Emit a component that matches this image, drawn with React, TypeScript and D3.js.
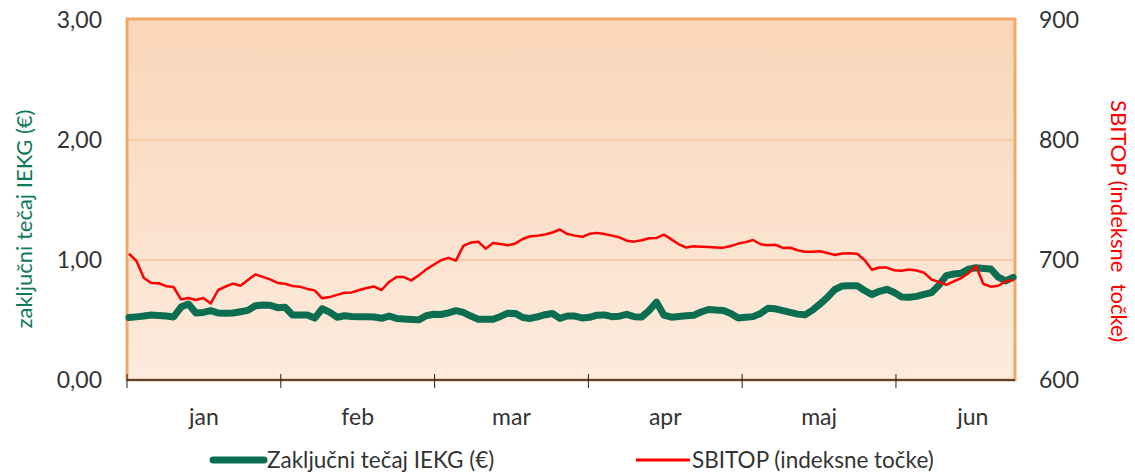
import React from "react";
import * as d3 from "d3";

const months = ["jan", "feb", "mar", "apr", "maj", "jun"];
const leftTicks = [0, 1, 2, 3];
const rightTicks = [600, 700, 800, 900];

// Closing price IEKG (€), one value per trading day
const iekg = [
  0.52, 0.526, 0.533, 0.542, 0.538, 0.533, 0.525, 0.608, 0.633, 0.558,
  0.563, 0.578, 0.558, 0.556, 0.558, 0.569, 0.58, 0.619, 0.625, 0.623,
  0.603, 0.606, 0.542, 0.542, 0.542, 0.516, 0.594, 0.566, 0.523, 0.535,
  0.53, 0.528, 0.528, 0.525, 0.514, 0.533, 0.513, 0.509, 0.505, 0.501,
  0.535, 0.548, 0.546, 0.56, 0.578, 0.563, 0.533, 0.507, 0.506, 0.506,
  0.53, 0.557, 0.555, 0.521, 0.513, 0.527, 0.544, 0.554, 0.513, 0.533,
  0.533, 0.517, 0.522, 0.54, 0.542, 0.528, 0.532, 0.547, 0.528, 0.525,
  0.579, 0.649, 0.54, 0.523, 0.53, 0.535, 0.54, 0.567, 0.588, 0.583,
  0.58, 0.554, 0.517, 0.522, 0.528, 0.554, 0.598, 0.593, 0.578, 0.563,
  0.549, 0.543, 0.582, 0.633, 0.689, 0.754, 0.783, 0.786, 0.786, 0.746,
  0.712, 0.739, 0.756, 0.729, 0.692, 0.689, 0.697, 0.714, 0.728, 0.789,
  0.87, 0.883, 0.889, 0.924, 0.935, 0.93, 0.925, 0.857, 0.826, 0.856,
];

// SBITOP index points, one value per trading day
const sbitop = [
  705.2, 699.2, 685, 680.8, 680.6, 678.2, 677.5, 667.2, 668.3, 666.6,
  668.3, 663.8, 675, 677.9, 680.3, 678.6, 683.3, 688, 685.9, 683.8,
  680.9, 680.2, 678.3, 677.8, 675.9, 674.7, 668.1, 669.1, 670.9, 672.7,
  673, 675, 676.7, 677.9, 675, 681.7, 685.8, 685.8, 683, 687.2,
  692.2, 696, 699.8, 701.8, 699.5, 711.8, 714.5, 715.3, 709.4, 714.2,
  713.4, 712.3, 713.8, 717.5, 719.8, 720.3, 721.3, 722.9, 725.4, 721.6,
  720.3, 719.3, 721.8, 722.6, 721.6, 720.3, 718.9, 716.1, 715.3, 716.4,
  718.1, 718.4, 721.1, 717.2, 713.1, 710.4, 711.4, 711.1, 710.8, 710.5,
  710.3, 711.6, 713.7, 714.9, 716.7, 713.1, 712.3, 712.7, 710.1, 710.2,
  708.1, 706.9, 706.8, 707.3, 705.8, 704.2, 705.4, 705.6, 705.2, 700,
  691.9, 693.8, 693.7, 691.5, 691.1, 692, 691.3, 689.5, 683.8, 681.8,
  679.3, 682.1, 684.9, 689, 694.7, 680, 677.8, 678.5, 682.3, 683.3,
];

const TRADING_DAYS_PER_MONTH = 20.7;
const FIRST_DAY_OFFSET = 0.27;
const MONTH_SPAN = 5.774;

const W = 1135;
const H = 472;
const L = 127;
const R = 1015;
const T = 20;
const B = 380;

const FONT = "Lato, 'Open Sans', sans-serif";

export default function App() {
  const x = d3.scaleLinear().domain([0, MONTH_SPAN]).range([L, R]);
  const yL = d3.scaleLinear().domain([0, 3]).range([B, T]);
  const yR = d3.scaleLinear().domain([600, 900]).range([B, T]);
  const t = (i: number) => (i + FIRST_DAY_OFFSET) / TRADING_DAYS_PER_MONTH;

  const greenLine = d3
    .line<number>()
    .x((_, i) => x(t(i)))
    .y((d) => yL(d))(iekg) as string;
  const redLine = d3
    .line<number>()
    .x((_, i) => x(t(i)))
    .y((d) => yR(d))(sbitop) as string;

  const monthTicks = d3.range(0, months.length);

  return (
    <svg
      width={W}
      height={H}
      style={{ position: "absolute", left: 0, top: 0, background: "#fff" }}
      fontFamily={FONT}
    >
      <defs>
        <linearGradient id="bg" x1="0" y1="0" x2="0" y2="1">
          <stop offset="0%" stopColor="#FAD6B9" />
          <stop offset="100%" stopColor="#FDEBDD" />
        </linearGradient>
      </defs>
      <rect x={L} y={T} width={R - L} height={B - T} fill="url(#bg)" />
      {leftTicks
        .filter((v) => v > 0 && v < 3)
        .map((v) => (
          <line
            key={v}
            x1={L}
            x2={R}
            y1={yL(v)}
            y2={yL(v)}
            stroke="#F6C59C"
            strokeWidth={1.5}
          />
        ))}
      <rect
        x={L}
        y={T - 1}
        width={R - L}
        height={B - T + 1}
        fill="none"
        stroke="#F0A868"
        strokeWidth={3}
      />
      {/* x axis */}
      <line x1={L} x2={R} y1={B} y2={B} stroke="#222" strokeWidth={1.5} />
      {monthTicks.map((m) => (
        <line
          key={m}
          x1={x(m)}
          x2={x(m)}
          y1={B - 6}
          y2={B + 8}
          stroke="#222"
          strokeWidth={1}
        />
      ))}
      {months.map((m, i) => (
        <text
          key={m}
          x={x(i + 0.5)}
          y={425}
          textAnchor="middle"
          fontSize={23}
          fill="#333"
        >
          {m}
        </text>
      ))}
      {/* left ticks */}
      {leftTicks.map((v) => (
        <text
          key={v}
          x={102}
          y={yL(v) + 8}
          textAnchor="end"
          fontSize={23}
          fill="#333"
        >
          {d3.format(".2f")(v).replace(".", ",")}
        </text>
      ))}
      {rightTicks.map((v) => (
        <text key={v} x={1039} y={yR(v) + 8} fontSize={23} fill="#333">
          {v}
        </text>
      ))}
      <text
        transform={`translate(32,219) rotate(-90)`}
        textAnchor="middle"
        fontSize={22}
        fill="#0F7A58"
      >
        zaključni tečaj IEKG (€)
      </text>
      <text
        transform={`translate(1111,221) rotate(90)`}
        textAnchor="middle"
        fontSize={22}
        fill="#FF0000"
        style={{ whiteSpace: "pre" }}
      >
        {"SBITOP (indeksne  točke)"}
      </text>
      {/* series */}
      <path
        d={greenLine}
        fill="none"
        stroke="#0B6E50"
        strokeWidth={7}
        strokeLinejoin="round"
        strokeLinecap="round"
      />
      <path
        d={redLine}
        fill="none"
        stroke="#FF0000"
        strokeWidth={2.5}
        strokeLinejoin="round"
      />
      {/* legend */}
      <line
        x1={213}
        x2={264}
        y1={460}
        y2={460}
        stroke="#0B6E50"
        strokeWidth={7}
        strokeLinecap="round"
      />
      <text x={267} y={468} fontSize={22.5} fill="#333">
        Zaključni tečaj IEKG (€)
      </text>
      <line
        x1={636}
        x2={690}
        y1={460}
        y2={460}
        stroke="#FF0000"
        strokeWidth={3}
      />
      <text x={692} y={468} fontSize={22.5} fill="#333">
        SBITOP (indeksne točke)
      </text>
    </svg>
  );
}
